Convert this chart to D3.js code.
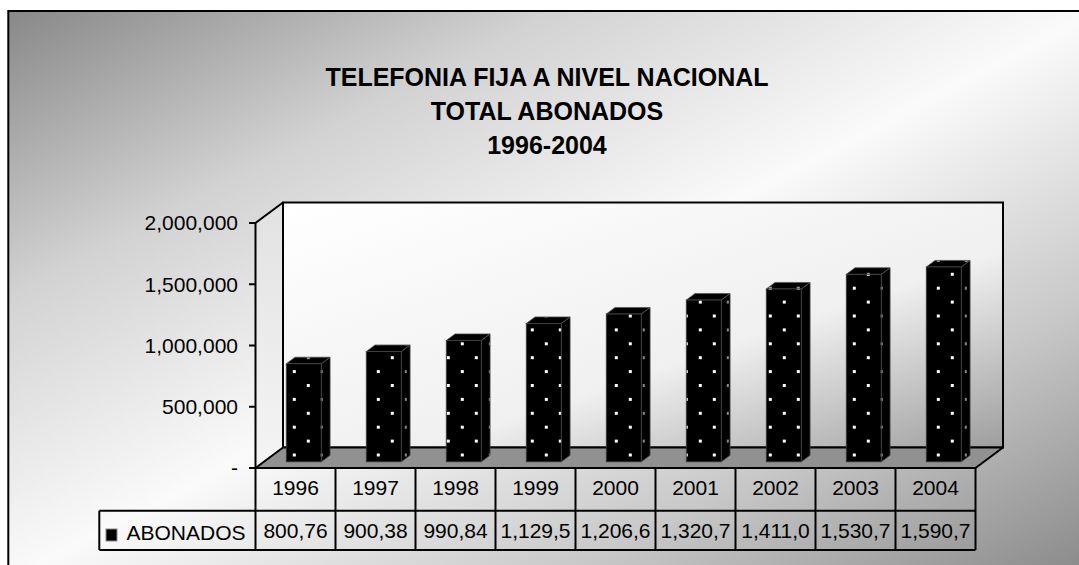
<!DOCTYPE html>
<html>
<head>
<meta charset="utf-8">
<script src="https://cdn.jsdelivr.net/npm/d3@7"></script>
<style>
  body { margin: 0; background: #fff; }
  svg { display: block; font-family: "Liberation Sans", Arial, sans-serif; }
</style>
</head>
<body>
<svg id="chart" width="1079" height="565"></svg>
<script>
// chart data
var titleLines = ["TELEFONIA FIJA A NIVEL NACIONAL", "TOTAL ABONADOS", "1996-2004"];
var years = ["1996", "1997", "1998", "1999", "2000", "2001", "2002", "2003", "2004"];
var abonados = [800760, 900380, 990840, 1129500, 1206600, 1320700, 1411000, 1530700, 1590700];
var seriesName = "ABONADOS";
var yTicks = [0, 500000, 1000000, 1500000, 2000000];

var svg = d3.select("#chart");
var defs = svg.append("defs");

// 3d box geometry
var plotLeft = 255.5, plotRight = 975.5, plotBase = 468, plotTop = 223;
var depthX = 27.5, depthY = -20.5;
var barFront = 0.3, barBack = 0.62;

var x = d3.scaleBand().domain(years).range([plotLeft, plotRight]).paddingInner(0.5625).paddingOuter(0.28125);
var cells = d3.scaleBand().domain(years).range([plotLeft, plotRight]).padding(0);
var y = d3.scaleLinear().domain([0, 2000000]).range([plotBase, plotTop]);

// gradients
var bg = defs.append("linearGradient").attr("id", "bgGrad")
  .attr("x1", 0).attr("y1", 0).attr("x2", 1).attr("y2", 1);
[[0, "#888"], [0.25, "#d2d2d2"], [0.5, "#fafafa"], [0.75, "#c8c8c8"], [1, "#868686"]].forEach(function(s) {
  bg.append("stop").attr("offset", s[0]).attr("stop-color", s[1]);
});
var wall = defs.append("linearGradient").attr("id", "wallGrad")
  .attr("x1", 0).attr("y1", 0).attr("x2", 1).attr("y2", 1);
[[0, "#ffffff"], [0.6, "#f0f0f0"], [1, "#9e9e9e"]].forEach(function(s) {
  wall.append("stop").attr("offset", s[0]).attr("stop-color", s[1]);
});
var side = defs.append("linearGradient").attr("id", "sideGrad")
  .attr("x1", 0).attr("y1", 0).attr("x2", 0).attr("y2", 1);
side.append("stop").attr("offset", 0).attr("stop-color", "#e2e2e2");
side.append("stop").attr("offset", 1).attr("stop-color", "#f4f4f4");

// dotted fills for the bars
function dots(id, color, w) {
  var p = defs.append("pattern").attr("id", id)
    .attr("patternUnits", "userSpaceOnUse")
    .attr("x", 12.8).attr("y", 8.7).attr("width", 28).attr("height", 27.8);
  p.append("rect").attr("width", 28).attr("height", 27.8).attr("fill", "#000");
  p.append("rect").attr("x", 0).attr("y", 0).attr("width", w).attr("height", 3).attr("fill", color);
  p.append("rect").attr("x", 14).attr("y", 13.9).attr("width", w).attr("height", 3).attr("fill", color);
}
dots("dotFront", "#fff", 3);
dots("dotSide", "#8a8a8a", 2);
dots("dotTop", "#9a9a9a", 3);

// background
svg.append("rect").attr("x", 8.3).attr("y", 11).attr("width", 1090).attr("height", 570)
  .attr("fill", "url(#bgGrad)").attr("stroke", "#000").attr("stroke-width", 2);

// title
svg.append("g").selectAll("text").data(titleLines).enter().append("text")
  .attr("x", 547).attr("y", function(d, i) { return 86 + i * 34; })
  .attr("text-anchor", "middle")
  .attr("font-size", 25).attr("font-weight", "bold")
  .text(function(d) { return d; });

function pt(px, py) { return px + "," + py; }
var wx = plotLeft + depthX, wy0 = plotBase + depthY, wy1 = plotTop + depthY;

// walls and floor
svg.append("polygon")
  .attr("points", [pt(plotLeft, plotBase), pt(plotLeft, plotTop), pt(wx, wy1), pt(wx, wy0)].join(" "))
  .attr("fill", "url(#sideGrad)");
svg.append("rect").attr("x", wx).attr("y", wy1).attr("width", plotRight - plotLeft).attr("height", wy0 - wy1)
  .attr("fill", "url(#wallGrad)").attr("stroke", "#000").attr("stroke-width", 2);
svg.append("polygon")
  .attr("points", [pt(plotLeft, plotBase), pt(plotRight, plotBase), pt(plotRight + depthX, wy0), pt(wx, wy0)].join(" "))
  .attr("fill", "#919191").attr("stroke", "#000").attr("stroke-width", 2).attr("stroke-linejoin", "round");
svg.append("path")
  .attr("d", "M" + pt(plotLeft, plotBase) + "L" + pt(plotLeft, plotTop) + "L" + pt(wx, wy1))
  .attr("fill", "none").attr("stroke", "#000").attr("stroke-width", 2);

// bars
var fx = barFront * depthX, fy = barFront * depthY;
var bx = (barBack - barFront) * depthX, by = (barBack - barFront) * depthY;
var bars = svg.append("g").selectAll("g").data(years).enter().append("g");
bars.each(function(d, i) {
  var g = d3.select(this);
  var x0 = x(d) + fx, x1 = x0 + x.bandwidth();
  var yt = y(abonados[i]) + fy, yb = y(0) + fy;
  g.append("polygon")
    .attr("points", [pt(x1, yt), pt(x1 + bx, yt + by), pt(x1 + bx, yb + by), pt(x1, yb)].join(" "))
    .attr("fill", "url(#dotSide)").attr("stroke", "#444").attr("stroke-width", 0.8);
  g.append("polygon")
    .attr("points", [pt(x0, yt), pt(x0 + bx, yt + by), pt(x1 + bx, yt + by), pt(x1, yt)].join(" "))
    .attr("fill", "url(#dotTop)").attr("stroke", "#555").attr("stroke-width", 0.8);
  g.append("rect").attr("x", x0).attr("y", yt).attr("width", x1 - x0).attr("height", yb - yt)
    .attr("fill", "url(#dotFront)").attr("stroke", "#444").attr("stroke-width", 0.8);
});

// value axis
var fmt = d3.format(",");
var axis = svg.append("g").attr("font-size", 21);
axis.selectAll("line").data(yTicks).enter().append("line")
  .attr("x1", plotLeft - 6.5).attr("x2", plotLeft).attr("y1", y).attr("y2", y)
  .attr("stroke", "#000").attr("stroke-width", 2);
axis.selectAll("text").data(yTicks).enter().append("text")
  .attr("x", 238).attr("y", y).attr("dy", "0.35em").attr("text-anchor", "end")
  .text(function(d) { return d === 0 ? "-" : fmt(d); });

// data table
var rowTop = plotBase, rowMid = 510.7, rowBot = 550, legendLeft = 99.3;
var table = svg.append("g").attr("stroke", "#000").attr("stroke-width", 2);
table.append("line").attr("x1", plotLeft).attr("x2", plotRight).attr("y1", rowTop).attr("y2", rowTop);
[rowMid, rowBot].forEach(function(ry) {
  table.append("line").attr("x1", legendLeft).attr("x2", plotRight).attr("y1", ry).attr("y2", ry);
});
table.append("line").attr("x1", legendLeft).attr("x2", legendLeft).attr("y1", rowMid).attr("y2", rowBot);
table.selectAll(".vline").data(d3.range(years.length + 1)).enter().append("line")
  .attr("x1", function(i) { return plotLeft + i * cells.step(); })
  .attr("x2", function(i) { return plotLeft + i * cells.step(); })
  .attr("y1", rowTop).attr("y2", rowBot);

var tx = svg.append("g").attr("font-size", 21).attr("text-anchor", "middle");
tx.selectAll(".yr").data(years).enter().append("text")
  .attr("x", function(d) { return cells(d) + cells.bandwidth() / 2; })
  .attr("y", 495)
  .text(function(d) { return d; });
tx.selectAll(".val").data(abonados).enter().append("text")
  .attr("x", function(d, i) { return cells(years[i]) + cells.bandwidth() / 2; })
  .attr("y", 538)
  .text(function(d) { return fmt(d); })
  .each(function() {
    // cut the number like the spreadsheet does when the cell is too narrow
    var t = d3.select(this), s = t.text();
    while (this.getComputedTextLength() > cells.bandwidth() - 6 && s.length > 1) {
      s = s.slice(0, -1);
      t.text(s);
    }
  });

// legend key
svg.append("rect").attr("x", 106).attr("y", 529).attr("width", 11).attr("height", 12)
  .attr("fill", "#000").attr("stroke", "#888").attr("stroke-width", 1);
svg.append("text").attr("x", 126.5).attr("y", 540).attr("font-size", 21).text(seriesName);
</script>
</body>
</html>
